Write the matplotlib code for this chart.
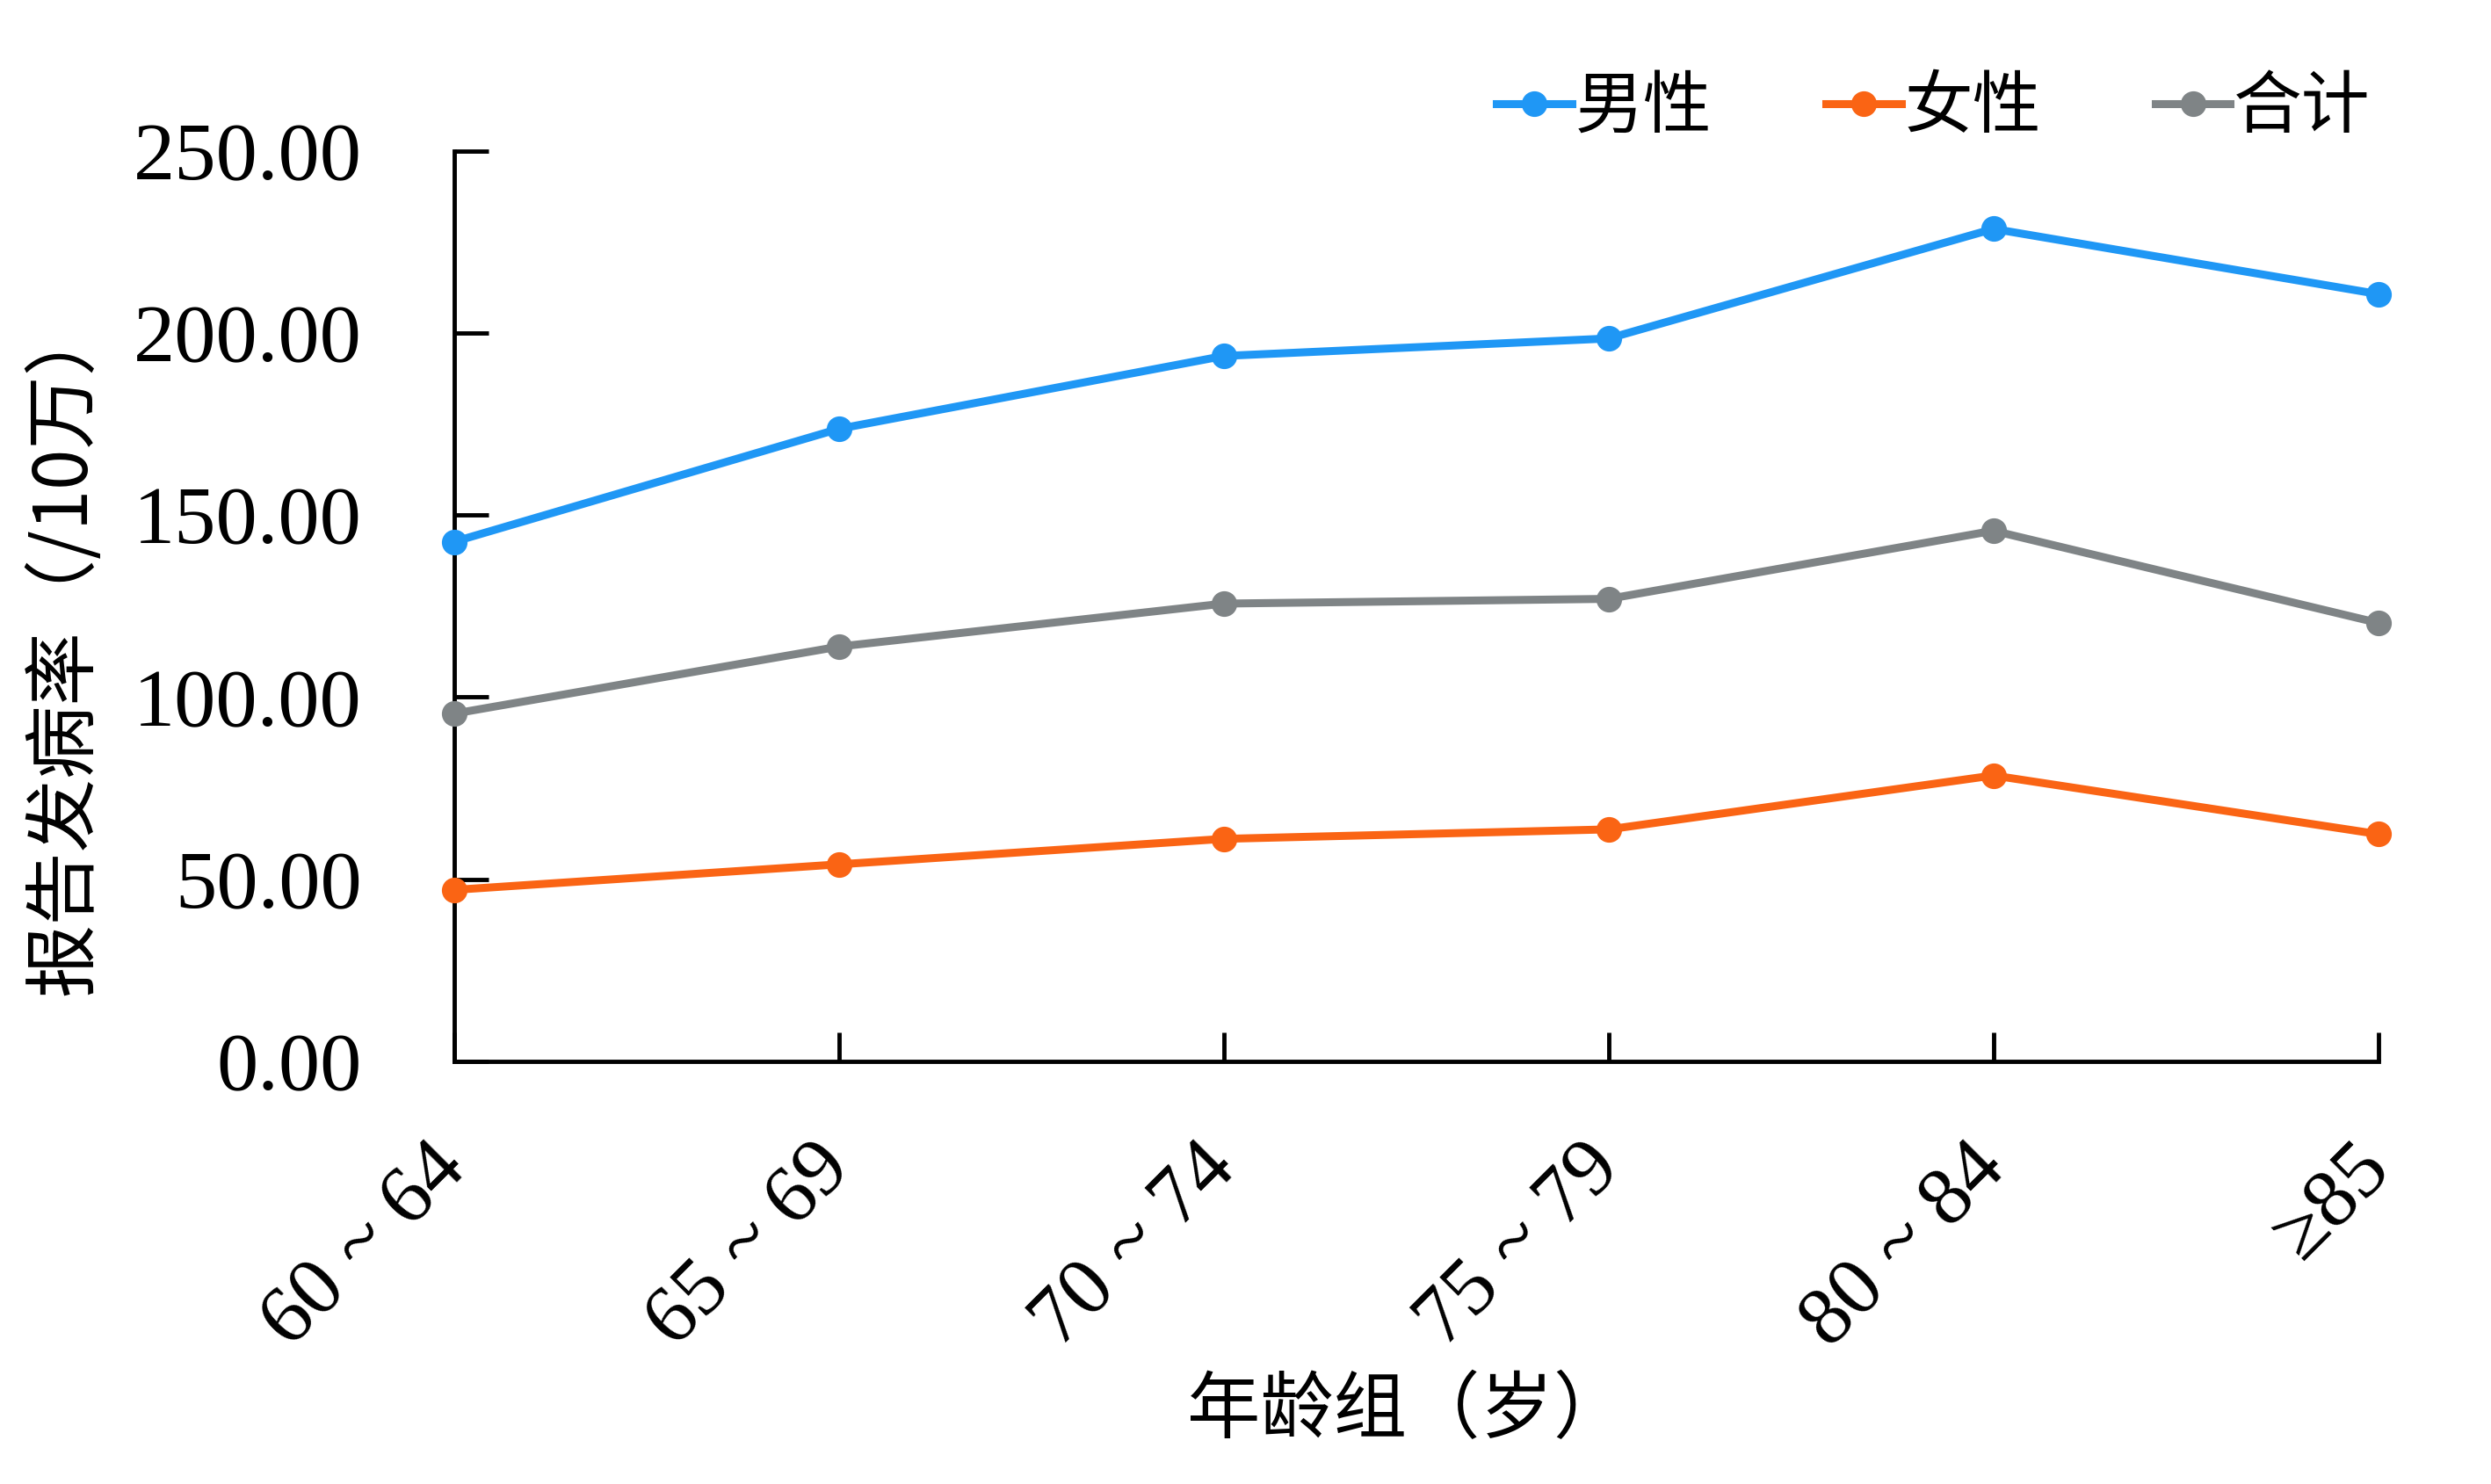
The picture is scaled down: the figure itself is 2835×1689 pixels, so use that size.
import matplotlib
matplotlib.use("Agg")
import matplotlib.pyplot as plt

plt.rcParams['font.family'] = ['Liberation Serif', 'Noto Sans CJK SC', 'DejaVu Sans']

categories = ["60 ~ 64", "65 ~ 69", "70 ~ 74", "75 ~ 79", "80 ~ 84", "≥85"]
male = [142.7, 173.7, 193.7, 198.5, 228.6, 210.7]
female = [47.1, 54.1, 61.1, 63.7, 78.5, 62.4]
total = [95.5, 113.9, 125.7, 127.0, 145.7, 120.4]
yticks = [0, 50, 100, 150, 200, 250]

fig = plt.figure(figsize=(28.35, 16.89), dpi=100)
ax = fig.add_axes([0.1824, 0.2848, 0.7723, 0.6135])

x = list(range(len(categories)))
ax.plot(x, male, color='#1f97f5', lw=6.5, marker='o', ms=20, label='男性', clip_on=False, zorder=3)
ax.plot(x, female, color='#fa6414', lw=6.5, marker='o', ms=20, label='女性', clip_on=False, zorder=3)
ax.plot(x, total, color='#7f8486', lw=6.5, marker='o', ms=20, label='合计', clip_on=False, zorder=3)

ax.set_xlim(0, len(categories) - 1)
ax.set_ylim(0, 250)
ax.set_yticks(yticks)
ax.set_yticklabels([f"{v:.2f}" for v in yticks], fontsize=68)
ax.set_xticks(x)
ax.set_xticklabels(categories, fontsize=68, rotation=45, ha='right', va='center', rotation_mode='anchor')

for s in ['top', 'right']:
    ax.spines[s].set_visible(False)
for s in ['left', 'bottom']:
    ax.spines[s].set_linewidth(3.5)
    ax.spines[s].set_color('black')

ax.tick_params(axis='y', direction='in', length=28, width=3.5, pad=76)
ax.tick_params(axis='x', direction='in', length=24, width=3.5, pad=78)

cjk = ['Noto Sans CJK SC', 'DejaVu Sans']
ax.set_ylabel('报告发病率（/10万）', fontsize=60, family=cjk)
ax.yaxis.set_label_coords(-0.203, 0.455)
ax.yaxis.label.set_va('center')
ax.set_xlabel('年龄组（岁）', fontsize=60, family=cjk)
ax.xaxis.set_label_coords(0.495, -0.384)
ax.xaxis.label.set_va('center')

leg = ax.legend(loc='center right', bbox_to_anchor=(0.996, 1.047), ncol=3, frameon=False,
                prop={'family': cjk, 'size': 56},
                handlelength=1.1, handletextpad=0.05, columnspacing=1.67, borderaxespad=0.0,
                borderpad=0.0)

fig.savefig('out.png', dpi=100)
